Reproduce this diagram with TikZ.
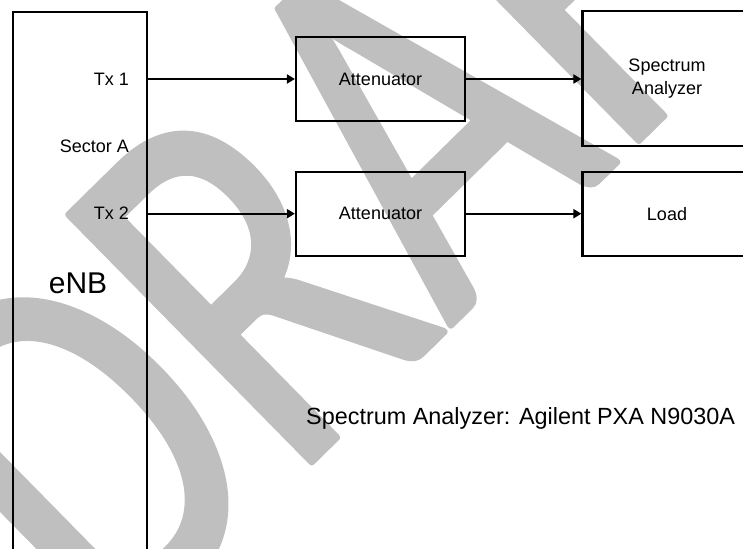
\documentclass[tikz,border=0pt]{standalone}
\usepackage{fontspec}
\setmainfont{Liberation Sans}
\newfontfamily\wmfont{Carlito}
\usetikzlibrary{arrows.meta}
% watermark glyphs are filled and outlined with a round pen
\newcommand\roundglyphs{\special{pdf:code 1 j 1 J 2 Tr 7 w}}
\begin{document}
\begin{tikzpicture}[x=1pt,y=-1pt,
  box/.style={draw,line width=2.2pt,minimum width=169pt,minimum height=84pt,
    inner sep=0pt,align=center,font=\fontsize{18}{22.6}\selectfont},
  lbl/.style={anchor=east,inner sep=0pt,font=\fontsize{18}{22}\selectfont},
  link/.style={line width=2pt,-{Triangle[length=8pt,width=9pt]}},
  watermark/.style={text=black!25,inner sep=0pt,font=\wmfont\fontsize{540}{540}\selectfont},
]
\useasboundingbox (0,0) rectangle (743,548);
\clip (0,0) rectangle (743,548);

% background watermark
\begin{scope}
\node[watermark,rotate=44.5,xscale=0.76,anchor=base west] (wm) at (110,660) {\roundglyphs DRAFT};
\end{scope}

% base station column (runs off the bottom edge)
\node[draw,line width=2.2pt,minimum width=134pt,minimum height=560pt,inner sep=0pt,
  anchor=north west] (enb) at (11.7,11) {};
\node[lbl] (tx1) at (129,79) {Tx 1};
\node[lbl] (sec) at (129,146) {Sector A};
\node[lbl] (tx2) at (129,213) {Tx 2};
\node[inner sep=0pt,font=\fontsize{30}{30}\selectfont] (enbl) at (78,283) {eNB};

% signal chain
\node[box] (att1) at (380.5,79) {Attenuator};
\node[box] (att2) at (380.5,213.7) {Attenuator};
\node[box,minimum height=135pt] (sa) at (667,78.5) {Spectrum\\Analyzer};
\node[box] (load) at (667,213.7) {Load};

\draw[link] (enb.east |- att1.west) -- (att1.west);
\draw[link] (enb.east |- att2.west) -- (att2.west);
\draw[link] (att1.east) -- (sa.west |- att1.east);
\draw[link] (att2.east) -- (load.west);

\node[inner sep=0pt,anchor=west,font=\fontsize{23.4}{24}\selectfont] (note) at (306,418)
  {Spectrum Analyzer: Agilent PXA N9030A};
\end{tikzpicture}
\end{document}
